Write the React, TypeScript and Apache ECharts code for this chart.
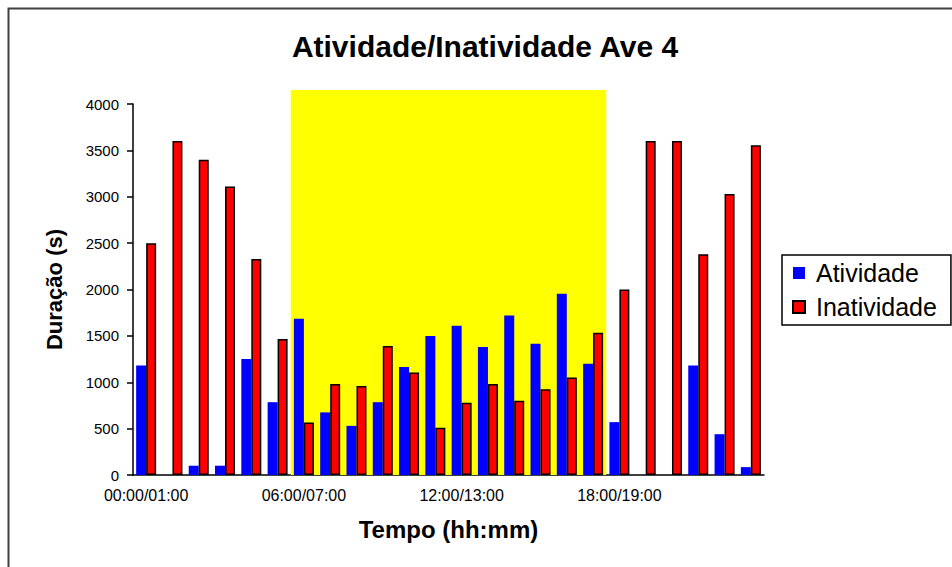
import React, { useEffect, useRef } from "react";
import * as echarts from "echarts";

const categories = [
  "00:00/01:00", "01:00/02:00", "02:00/03:00", "03:00/04:00", "04:00/05:00", "05:00/06:00",
  "06:00/07:00", "07:00/08:00", "08:00/09:00", "09:00/10:00", "10:00/11:00", "11:00/12:00",
  "12:00/13:00", "13:00/14:00", "14:00/15:00", "15:00/16:00", "16:00/17:00", "17:00/18:00",
  "18:00/19:00", "19:00/20:00", "20:00/21:00", "21:00/22:00", "22:00/23:00", "23:00/00:00",
];
const atividade = [
  1180, 0, 100, 100, 1250, 785, 1685, 675, 530, 785, 1165, 1500,
  1610, 1380, 1720, 1415, 1955, 1200, 570, 0, 0, 1180, 440, 85,
];
const inatividade = [
  2500, 3600, 3400, 3110, 2330, 1465, 565, 980, 960, 1390, 1105, 510,
  780, 980, 800, 925, 1050, 1535, 2000, 3600, 3600, 2380, 3030, 3555,
];
// daytime band: [start boundary, end boundary, top value]
const dayBand = [[6, 18, 4150]];
const yTicks = { min: 0, max: 4000, interval: 500 };

const FONT = "'Liberation Sans', Arial, sans-serif";

export default function App() {
  const ref = useRef<HTMLDivElement>(null);
  useEffect(() => {
    if (!ref.current) return;
    const chart = echarts.init(ref.current, undefined, { renderer: "svg" });
    chart.setOption({
      animation: false,
      backgroundColor: "#ffffff",
      textStyle: { fontFamily: FONT },
      title: {
        text: "Atividade/Inatividade Ave 4",
        left: 480,
        textAlign: "center",
        top: 26,
        textStyle: { fontFamily: FONT, fontSize: 30, fontWeight: "bold", color: "#000" },
      },
      graphic: [
        {
          type: "rect",
          left: 6,
          top: 6,
          shape: { width: 1000, height: 620 },
          style: { fill: "none", stroke: "#404040", lineWidth: 2 },
          z: 100,
        },
      ],
      legend: {
        orient: "vertical",
        left: 782,
        top: 255,
        padding: [4, 14, 4, 10],
        itemGap: 6,
        itemWidth: 12,
        itemHeight: 12,
        icon: "rect",
        borderColor: "#000",
        borderWidth: 1.5,
        backgroundColor: "#fff",
        textStyle: { fontFamily: FONT, fontSize: 25, color: "#000", lineHeight: 28, padding: [0, 0, 0, 6] },
        data: ["Atividade", "Inatividade"],
      },
      grid: { left: 133, right: 188, top: 104, bottom: 92 },
      xAxis: [
        {
          type: "category",
          data: categories,
          name: "Tempo (hh:mm)",
          nameLocation: "middle",
          nameGap: 42,
          nameTextStyle: { fontFamily: FONT, fontSize: 24, fontWeight: "bold", color: "#000" },
          axisLine: { lineStyle: { color: "#000", width: 1.5 } },
          axisTick: { interval: 5, length: 6, lineStyle: { color: "#000", width: 1.5 } },
          axisLabel: { interval: 5, margin: 12, fontFamily: FONT, fontSize: 16, color: "#000" },
          splitLine: { show: false },
        },
        {
          type: "value",
          min: 0,
          max: categories.length,
          show: false,
        },
      ],
      yAxis: {
        type: "value",
        min: yTicks.min,
        max: yTicks.max,
        interval: yTicks.interval,
        name: "Duração (s)",
        nameLocation: "middle",
        nameGap: 68,
        nameTextStyle: { fontFamily: FONT, fontSize: 22, fontWeight: "bold", color: "#000" },
        axisLine: { show: true, lineStyle: { color: "#000", width: 1.5 } },
        axisTick: { show: true, length: 6, lineStyle: { color: "#000", width: 1.5 } },
        axisLabel: {
          margin: 14,
          fontFamily: FONT,
          fontSize: 15,
          color: "#000",
          formatter: (v: number) => String(v),
        },
        splitLine: { show: false },
      },
      series: [
        {
          name: "day",
          type: "custom",
          xAxisIndex: 1,
          yAxisIndex: 0,
          data: dayBand,
          clip: false,
          silent: true,
          z: 1,
          encode: { x: [0, 1], y: 2 },
          renderItem: (params: any, api: any) => {
            const p0 = api.coord([api.value(0), 0]);
            const p1 = api.coord([api.value(1), api.value(2)]);
            return {
              type: "rect",
              shape: { x: p0[0], y: p1[1], width: p1[0] - p0[0], height: p0[1] - p1[1] },
              style: { fill: "#ffff00" },
            };
          },
        },
        {
          name: "Atividade",
          type: "bar",
          data: atividade,
          barWidth: 10,
          barGap: "0%",
          z: 3,
          itemStyle: { color: "#0000ff" },
        },
        {
          name: "Inatividade",
          type: "bar",
          data: inatividade,
          barWidth: 10,
          barGap: "0%",
          z: 3,
          itemStyle: { color: "#ff0000", borderColor: "#000", borderWidth: 1.5 },
        },
      ],
    });
    return () => chart.dispose();
  }, []);
  return (
    <div
      ref={ref}
      style={{ position: "fixed", left: 0, top: 0, width: 952, height: 567 }}
    />
  );
}
